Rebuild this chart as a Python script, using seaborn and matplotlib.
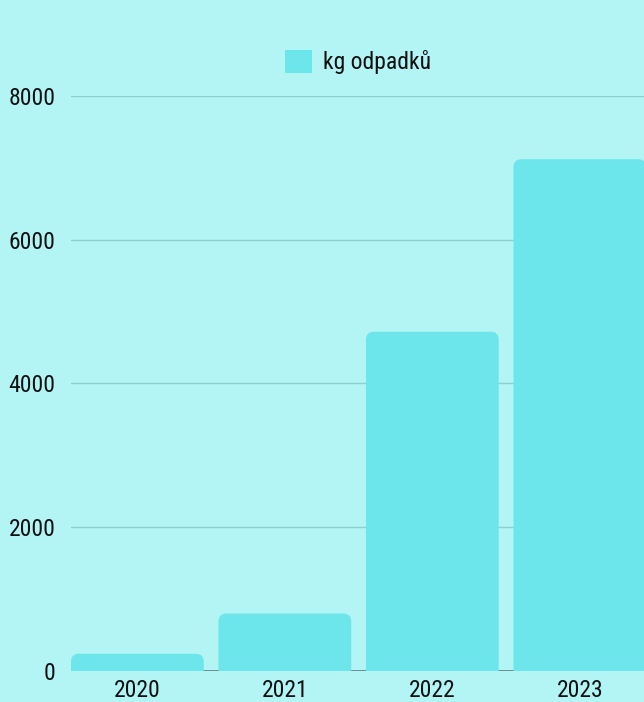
import matplotlib
matplotlib.use("Agg")
import matplotlib.pyplot as plt
import seaborn as sns
import pandas as pd
from matplotlib.patches import FancyBboxPatch, Patch
from matplotlib import font_manager

years = ["2020", "2021", "2022", "2023"]
values = [240, 800, 4720, 7120]
series_name = "kg odpadků"
yticks = [0, 2000, 4000, 6000, 8000]

BG = "#b3f4f5"
BAR = "#6ce6ea"
GRID = "#8ecfd1"

sns.set_theme(style="white")
avail = {f.name for f in font_manager.fontManager.ttflist}
condensed = [f for f in ["Roboto Condensed", "Open Sans Condensed", "Liberation Sans Narrow"] if f in avail]
if condensed:
    fam = [condensed[0], "DejaVu Sans"]
    FS = 17
else:
    fam = ["Roboto", "DejaVu Sans"]
    FS = 14.5
plt.rcParams["font.family"] = fam

df = pd.DataFrame({"year": years, "kg": values})

fig = plt.figure(figsize=(6.44, 7.02), dpi=100, facecolor=BG)
W, H = 644, 702
ax = fig.add_axes([71 / W, (H - 671) / H, (644 - 71) / W, (671 - 96) / H])
ax.set_facecolor(BG)

sns.barplot(data=df, x="year", y="kg", color=BAR, saturation=1, width=0.9, ax=ax, zorder=3)

ax.set_xlim(-0.45, 3.435)
ax.set_ylim(0, 8000)

# replace bars with top-rounded versions
px_x = (644 - 71) / (3.435 + 0.45)  # px per x unit
px_y = (671 - 96) / 8000.0  # px per y unit
aspect = (1 / px_y) / (1 / px_x)
r = 8 / px_x
for p in list(ax.patches):
    x0, w, h = p.get_x(), p.get_width(), p.get_height()
    ext = 20 / px_y
    fb = FancyBboxPatch((x0, -ext), w, h + ext,
                        boxstyle=f"round,pad=0,rounding_size={r}",
                        mutation_aspect=aspect, facecolor=BAR, edgecolor="none",
                        zorder=3, clip_on=True)
    ax.add_patch(fb)
    p.set_visible(False)

ax.set_yticks(yticks)
ax.set_yticklabels([str(v) for v in yticks])
ax.grid(axis="y", color=GRID, linewidth=1, zorder=0)
ax.grid(axis="x", visible=False)
ax.axhline(0, color="#5f7f80", linewidth=1.2, zorder=2)
for s in ax.spines.values():
    s.set_visible(False)
ax.tick_params(axis="both", length=0, labelsize=FS, colors="#111111")
ax.tick_params(axis="y", pad=11)
ax.tick_params(axis="x", pad=6)
ax.set_xlabel("")
ax.set_ylabel("")

handle = Patch(facecolor=BAR, edgecolor="none")
fig.legend([handle], [series_name], loc="center left",
           bbox_to_anchor=(285 / W, (H - 62) / H), frameon=False,
           borderaxespad=0, borderpad=0,
           fontsize=FS, handlelength=27 / (FS * 100 / 72), handleheight=27 / (FS * 100 / 72),
           handletextpad=11 / (FS * 100 / 72),
           labelcolor="#111111")

fig.savefig("out.png", dpi=100, facecolor=BG)
